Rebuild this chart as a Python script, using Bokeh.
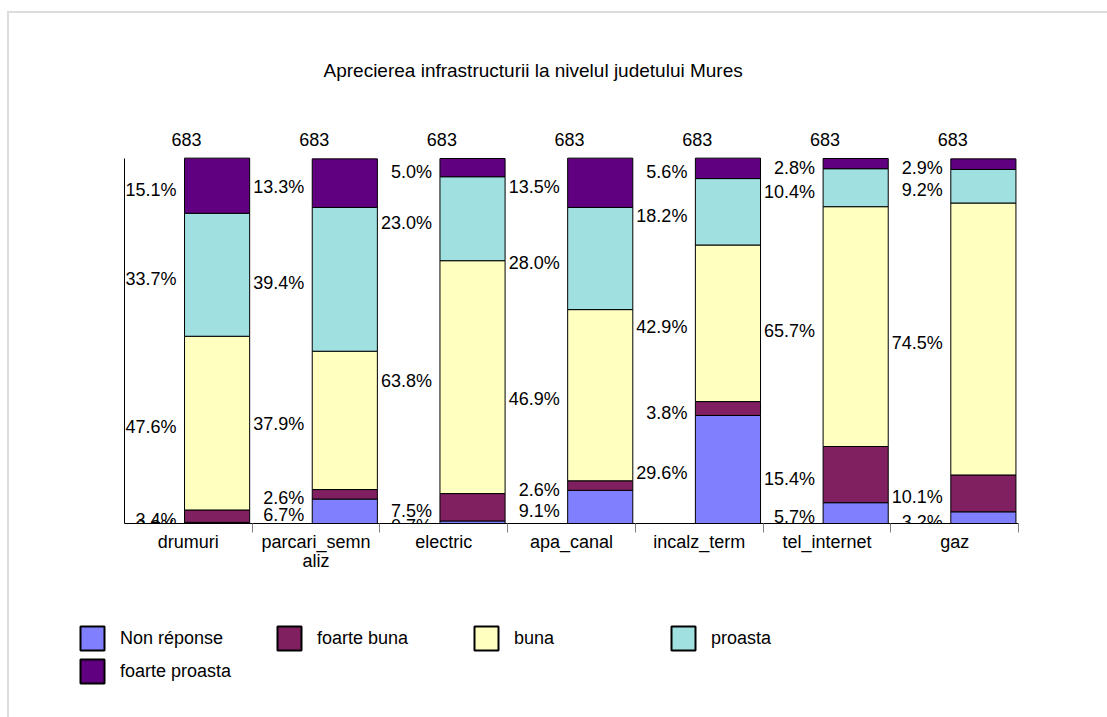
from bokeh.plotting import figure
from bokeh.layouts import column
from bokeh.models import (ColumnDataSource, Range1d, FixedTicker, Legend, LegendItem,
                          Title, InlineStyleSheet)
from bokeh.core.properties import value
from bokeh.embed import file_html
from bokeh.resources import INLINE

# ---------------- data ----------------
categories = ["drumuri", "parcari_semnaliz", "electric", "apa_canal",
              "incalz_term", "tel_internet", "gaz"]
category_labels = ["drumuri", "parcari_semn\naliz", "electric", "apa_canal",
                   "incalz_term", "tel_internet", "gaz"]
series_names = ["Non réponse", "foarte buna", "buna", "proasta", "foarte proasta"]
non_reponse = [0.3, 6.7, 0.7, 9.1, 29.6, 5.7, 3.2]
foarte_buna = [3.4, 2.6, 7.5, 2.6, 3.8, 15.4, 10.1]
buna = [47.6, 37.9, 63.8, 46.9, 42.9, 65.7, 74.5]
proasta = [33.7, 39.4, 23.0, 28.0, 18.2, 10.4, 9.2]
foarte_proasta = [15.1, 13.3, 5.0, 13.5, 5.6, 2.8, 2.9]
counts = [683, 683, 683, 683, 683, 683, 683]
title_text = "Aprecierea infrastructurii la nivelul judetului Mures"

# ---------------- style ----------------
colors = ["#8080FF", "#802060", "#FFFFC0", "#A0E0E0", "#600080"]
FONT = "Liberation Sans"
FS = "18px"

series_values = [non_reponse, foarte_buna, buna, proasta, foarte_proasta]
keys = ["s0", "s1", "s2", "s3", "s4"]

n = len(categories)
bar_left = 0.47
bar_width = 0.51

src = {"x": [i + bar_left + bar_width / 2 for i in range(n)], "cat": categories}
for k, vals in zip(keys, series_values):
    src[k] = vals
source = ColumnDataSource(src)

page_css = InlineStyleSheet(css="""
:host { position: relative; }
:host::after {
  content: ""; position: absolute;
  left: 7px; top: 11px; right: 0; bottom: 0;
  border-left: 2px solid #dcdcdc; border-top: 2px solid #dcdcdc;
  z-index: 50; pointer-events: none;
}
""")

p = figure(width=1107, height=600,
           x_range=Range1d(0, n), y_range=Range1d(0, 115.89),
           min_border_left=124, min_border_right=89,
           min_border_top=100, min_border_bottom=77,
           output_backend="svg", toolbar_location=None,
           background_fill_color="white", border_fill_color="white")
p.frame_align = False
p.outline_line_color = None
p.xgrid.visible = False
p.ygrid.visible = False

p.title = Title(text=title_text, align="left", offset=199, standoff=39,
                text_font=FONT, text_font_size="19px", text_font_style="normal",
                text_color="black")

renderers = p.vbar_stack(keys, x="x", width=bar_width, source=source,
                         fill_color=colors, line_color="black", line_width=1)

# percentage labels
lx, ly, lt = [], [], []
for i in range(n):
    base = 0.0
    for vals in series_values:
        v = vals[i]
        lx.append(i + bar_left)
        ly.append(base + v / 2)
        lt.append("%.1f%%" % v)
        base += v
p.text(x=lx, y=ly, text=lt, text_align="right", text_baseline="middle",
       x_offset=-8, y_offset=4, text_font=value(FONT), text_font_size=FS,
       text_color="black")

# counts above bars
tops = [sum(vals[i] for vals in series_values) for i in range(n)]
p.text(x=[i + 0.485 for i in range(n)], y=tops, text=[str(c) for c in counts],
       text_align="center", text_baseline="middle", y_offset=-19,
       text_font=value(FONT), text_font_size=FS, text_color="black")

# x axis
xa = p.xaxis[0]
xa.ticker = FixedTicker(ticks=[i + 0.5 for i in range(n)],
                        minor_ticks=[i + 1 for i in range(n)])
xa.major_label_overrides = {i + 0.5: lab for i, lab in enumerate(category_labels)}
xa.major_tick_in = 0
xa.major_tick_out = 0
xa.minor_tick_in = 0
xa.minor_tick_out = 9
xa.minor_tick_line_color = "#808080"
xa.axis_line_color = "black"
xa.major_label_standoff = -1
xa.major_label_text_font = FONT
xa.major_label_text_font_size = FS
xa.major_label_text_color = "black"
xa.major_label_text_line_height = 0.95

# y axis: only its line
ya = p.yaxis[0]
ya.bounds = (0, 100)
ya.ticker = FixedTicker(ticks=[], minor_ticks=[])
ya.major_tick_in = 0
ya.major_tick_out = 0
ya.minor_tick_in = 0
ya.minor_tick_out = 0
ya.axis_line_color = "black"

# legend panel (second figure below); its stacked renderers are hidden and serve only as legend keys
q = figure(width=1107, height=117, x_range=Range1d(100, 101), y_range=Range1d(-100, -99),
           min_border=0, x_axis_location=None, y_axis_location=None,
           output_backend="svg", toolbar_location=None,
           background_fill_color="white", border_fill_color="white")
q.frame_align = False
q.outline_line_color = None
q.xgrid.visible = False
q.ygrid.visible = False
keys_r = q.vbar_stack(keys, x="x", width=bar_width, source=source,
                      fill_color=colors, line_color="black", line_width=2)
for r in keys_r:
    r.visible = False
legend = Legend(items=[LegendItem(label=nm, renderers=[r]) for nm, r in zip(series_names, keys_r)],
                orientation="horizontal", ncols=4, location=(77, 31),
                glyph_width=30, glyph_height=30, label_standoff=13, spacing=3,
                label_width=151, label_height=24, padding=0, margin=0,
                border_line_color=None, background_fill_alpha=0,
                inactive_fill_alpha=0,
                label_text_font=FONT, label_text_font_size=FS,
                label_text_color="black")
q.add_layout(legend)

layout = column(p, q, spacing=0, stylesheets=[page_css])
open("out.html", "w").write(file_html(layout, INLINE))
